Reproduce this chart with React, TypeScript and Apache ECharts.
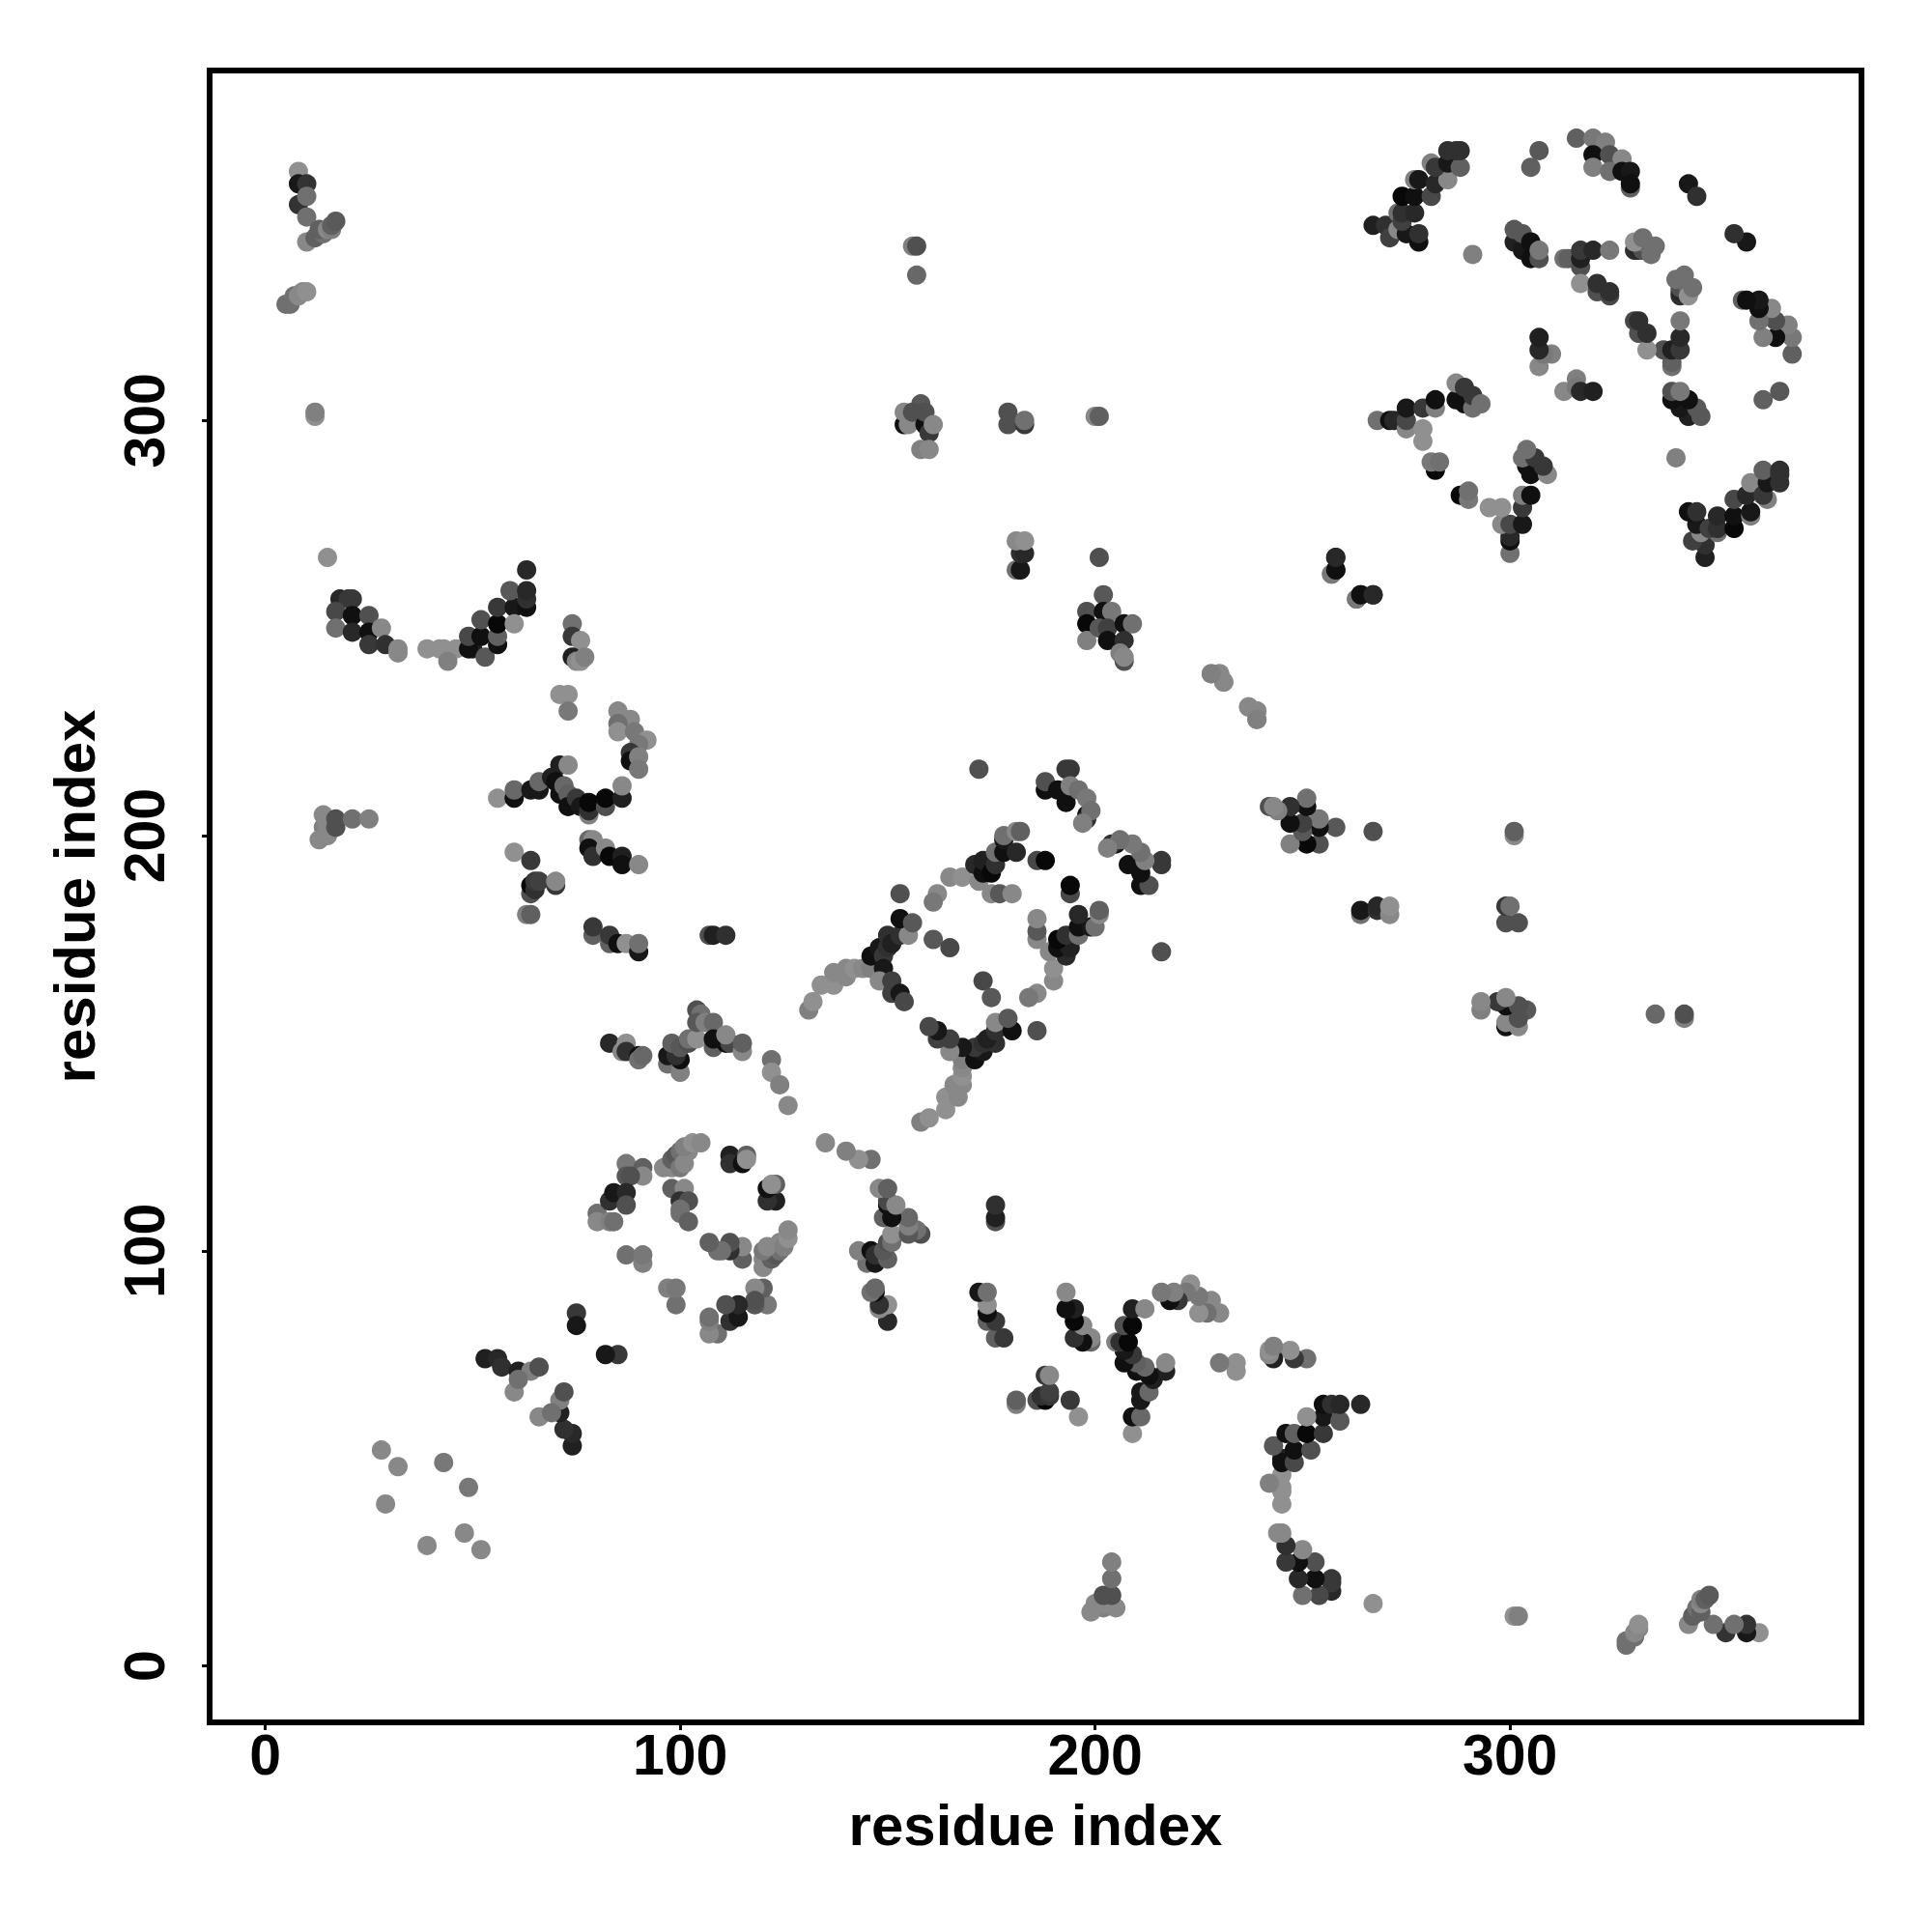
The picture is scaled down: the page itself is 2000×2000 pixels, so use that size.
import React, { useEffect, useRef } from "react";
import * as echarts from "echarts";

type C = [number, number, number];

const tickLabels = [0, 100, 200, 300];
const xTitle = "residue index";
const yTitle = "residue index";

// contacts above the diagonal: [residue i, residue j, grey level]
const nTerminal: C[] = [
  [8,360,0x90],[8,357,0x18],[10,357,0x33],[8,352,0x33],[10,354,0x70],[10,349,0x70],[10,343,0x88],[12,344,0x60],
  [14,345,0x70],[13,346,0x60],[15,346,0x88],[16,346,0x80],[16,347,0x60],[17,348,0x5a],[5,328,0x70],[6,328,0x70],[7,330,0x70],[8,330,0x88],
  [9,331,0x88],[10,331,0x90],[12,301,0x90],[12,302,0x80],[15,267,0x90],
];
const helixA: C[] = [
  [18,257,0x28],[20,257,0x38],[21,257,0x38],[17,254,0x48],[21,253,0x10],[25,253,0x50],[17,250,0x70],[21,249,0x28],
  [25,249,0x10],[28,250,0x88],[25,246,0x38],[29,246,0x30],[32,244,0x88],[32,245,0x88],[39,245,0x90],[42,245,0x90],
  [43,245,0x90],[46,245,0x90],[44,242,0x80],[50,245,0x20],[49,245,0x10],[49,248,0x48],[52,248,0x10],[52,252,0x50],
  [53,243,0x58],[56,246,0x10],[56,248,0x60],[56,251,0x08],[56,255,0x38],[60,255,0x18],[60,251,0x90],[59,259,0x58],
  [63,255,0x10],[63,257,0x30],[63,259,0x28],[63,264,0x28],
];
const helixB: C[] = [
  [74,251,0x70],[74,248,0x38],[76,247,0x90],[74,243,0x20],[75,242,0x88],[76,242,0x90],[77,243,0x80],[71,234,0x90],
  [73,234,0x90],[73,230,0x78],[85,230,0x88],[88,228,0x88],[85,227,0x70],[85,225,0x90],[89,225,0x78],[92,223,0x90],
  [90,222,0x78],[88,220,0x38],[88,218,0x10],[90,219,0x80],[90,216,0x78],
];
const sheetA: C[] = [
  [56,209,0x90],[60,209,0x10],[60,211,0x68],[64,211,0x18],[66,211,0x18],[66,213,0x68],[69,214,0x20],[71,217,0x20],
  [73,217,0x88],[70,213,0x10],[71,210,0x10],[72,212,0x68],[73,210,0x60],[73,207,0x10],[75,209,0x38],[76,207,0x18],
  [78,205,0x80],[78,206,0x30],[78,208,0x08],[82,207,0x50],[82,209,0x08],[86,209,0x20],[86,212,0x88],
  [14,202,0x80],[14,205,0x88],[15,202,0x88],[13,199,0x88],[15,200,0x88],[17,202,0x50],[17,204,0x50],[21,204,0x70],[25,204,0x80],
];
const sheetB: C[] = [
  [60,196,0x90],[64,194,0x38],[64,186,0x50],[64,188,0x08],[65,187,0x30],[65,189,0x38],[66,189,0x40],[70,188,0x38],
  [70,189,0x88],[63,181,0x80],[64,181,0x60],[78,199,0x68],[79,199,0x88],[78,197,0x10],[79,195,0x30],[82,197,0x88],
  [83,195,0x08],[86,195,0x20],[86,193,0x10],[90,193,0x88],[79,176,0x60],[79,178,0x38],[83,174,0x60],[83,176,0x38],
  [85,174,0x10],[87,174,0x90],[90,172,0x18],[90,174,0x70],[107,176,0x50],[108,176,0x20],[111,176,0x30],
];
const middleA: C[] = [
  [83,150,0x28],[86,148,0x88],[87,150,0x90],[87,148,0x30],[90,147,0x10],[90,146,0x70],[91,147,0x68],
  [97,145,0x70],[97,147,0x18],[100,143,0x80],[100,146,0x10],[99,147,0x30],[98,150,0x60],[100,149,0x58],[102,150,0x50],
  [102,151,0x70],[104,151,0x90],[104,158,0x50],[105,157,0x70],[104,155,0x58],[106,155,0x80],[108,155,0x68],[108,149,0x60],
  [108,151,0x10],[111,150,0x10],[112,150,0x48],[111,152,0x88],[115,148,0x88],[115,150,0x60],[122,146,0x70],[122,143,0x90],
  [124,140,0x80],[126,135,0x88],
];
const middleB: C[] = [
  [112,123,0x20],[112,121,0x30],[115,121,0x10],[116,123,0x60],[116,122,0x90],[87,121,0x78],[91,120,0x60],[91,118,0x88],
  [87,118,0x58],[88,118,0x50],[96,120,0x88],[98,120,0x88],[98,122,0x60],[99,123,0x58],[100,120,0x78],[100,124,0x70],
  [101,121,0x88],[102,124,0x88],[101,125,0x80],[103,126,0x90],[105,126,0x88],[98,115,0x60],[101,115,0x88],[100,112,0x30],
  [102,112,0x50],[100,110,0x70],[100,109,0x70],[102,107,0x60],[80,109,0x70],[80,107,0x88],[83,107,0x80],[84,107,0x70],
  [83,112,0x30],[84,114,0x18],[87,114,0x28],[87,111,0x50],[87,99,0x70],[91,97,0x80],[91,99,0x78],
];
const shortRange: C[] = [
  [28,52,0x88],[32,48,0x88],[43,49,0x78],[29,39,0x88],[53,74,0x20],[56,74,0x28],[57,72,0x30],[61,71,0x20],
  [64,71,0x80],[66,72,0x50],[60,66,0x88],[61,69,0x70],[75,85,0x38],[75,82,0x18],
];
const domainBridge: C[] = [
  [131,158,0x80],[132,160,0x90],[134,164,0x90],[137,164,0x90],[137,167,0x88],[140,166,0x88],[140,168,0x88],[142,168,0x90],
  [144,168,0x88],[146,168,0x80],[146,171,0x10],[148,173,0x18],[149,171,0x38],[149,168,0x18],[150,173,0x30],[150,176,0x30],
  [151,174,0x20],[153,176,0x30],[155,176,0x88],[153,180,0x10],[156,179,0x58],[153,186,0x50],[148,165,0x88],[151,165,0x40],
  [151,162,0x40],[153,162,0x18],[154,160,0x48],[162,186,0x88],[161,184,0x78],[165,190,0x88],[168,190,0x90],
  [161,175,0x58],[165,173,0x48],[172,216,0x50],
];
const hingeStrands: C[] = [
  [172,189,0x88],[171,193,0x28],[173,191,0x10],[173,194,0x20],[175,191,0x08],[176,193,0x30],[176,196,0x70],[175,186,0x88],
  [177,186,0x58],[180,186,0x88],[178,196,0x10],[178,199,0x18],[178,200,0x70],[181,196,0x28],[181,201,0x88],[182,201,0x60],
  [186,194,0x48],[188,194,0x08],[188,211,0x10],[188,213,0x50],[191,211,0x10],[193,208,0x10],[193,216,0x38],[194,216,0x38],
  [194,212,0x80],[196,211,0x70],[198,205,0x10],[198,204,0x30],[198,209,0x78],[199,206,0x70],[197,203,0x80],
];
const midLongRange: C[] = [
  [156,342,0x80],[157,342,0x50],[157,335,0x68],[154,299,0x10],[154,302,0x88],[155,299,0x88],[158,304,0x58],[156,302,0x50],
  [159,299,0x10],[159,302,0x50],[160,297,0x38],[161,299,0x88],[158,293,0x80],[160,293,0x88],[179,299,0x50],[179,302,0x50],
  [183,299,0x38],[183,300,0x70],[200,301,0x88],[201,301,0x60],[181,264,0x70],[182,264,0x18],[182,268,0x30],[183,268,0x28],
  [181,271,0x88],[183,271,0x90],[201,267,0x50],[202,258,0x58],[198,254,0x50],[198,251,0x08],[198,247,0x80],[202,254,0x10],
  [204,254,0x78],[201,250,0x58],[203,250,0x40],[207,251,0x10],[209,251,0x70],[203,247,0x10],[207,247,0x30],[206,244,0x80],
  [207,242,0x50],[207,243,0x88],[228,239,0x88],[230,239,0x88],[231,237,0x88],[237,231,0x88],[239,230,0x88],[239,228,0x80],
  [257,263,0x78],[258,264,0x10],[258,267,0x20],[263,257,0x78],[264,258,0x10],[267,258,0x28],
];
const cTerminalA: C[] = [
  [267,347,0x20],[270,347,0x30],[271,344,0x40],[273,346,0x88],[275,345,0x18],[278,343,0x10],[278,345,0x30],[273,350,0x70],
  [274,348,0x40],[274,350,0x30],[277,350,0x28],[274,354,0x08],[277,354,0x10],[277,358,0x80],[278,358,0x18],[281,354,0x48],
  [282,357,0x28],[285,358,0x88],[281,362,0x80],[282,361,0x38],[285,362,0x18],[288,361,0x60],[285,365,0x30],[287,365,0x30],
  [288,365,0x30],[291,340,0x80],[305,361,0x60],[307,365,0x58],
];
const cTerminalB: C[] = [
  [301,343,0x20],[301,346,0x58],[303,341,0x18],[303,345,0x58],[305,339,0x10],[305,343,0x10],[307,339,0x50],[307,341,0x78],
  [316,368,0x60],[320,368,0x78],[323,367,0x80],[320,364,0x10],[324,364,0x50],[327,363,0x88],[320,361,0x80],[324,360,0x70],
  [327,360,0x10],[329,360,0x18],[329,356,0x60],[329,357,0x10],[343,357,0x18],[345,354,0x30],[313,339,0x70],[314,339,0x60],
  [317,337,0x50],[317,339,0x20],[317,341,0x38],[320,341,0x28],[324,341,0x78],[317,333,0x90],[321,331,0x50],[321,333,0x30],
  [324,330,0x48],[324,331,0x30],[330,341,0x30],[331,341,0x28],[331,343,0x80],[332,341,0x50],[332,343,0x68],[330,343,0x90],
  [332,344,0x70],[334,340,0x70],[335,342,0x70],
];
const cTerminalC: C[] = [
  [313,307,0x88],[316,310,0x80],[316,308,0x78],[317,307,0x28],[320,307,0x20],[268,300,0x70],[271,300,0x10],[272,300,0x28],
  [275,298,0x88],[275,300,0x48],[275,303,0x18],[279,303,0x38],[282,303,0x80],[282,305,0x10],[279,298,0x90],[279,295,0x90],
  [282,288,0x08],[281,290,0x78],[283,290,0x70],[287,305,0x10],[287,309,0x88],[289,304,0x10],[289,308,0x38],[291,303,0x70],
  [291,306,0x38],[293,304,0x70],
];

const upperContacts: C[] = [
  ...nTerminal, ...helixA, ...helixB, ...sheetA, ...sheetB, ...middleA, ...middleB,
  ...shortRange, ...domainBridge, ...hingeStrands, ...midLongRange, ...cTerminalA, ...cTerminalB, ...cTerminalC,
];

const item = (x: number, y: number, g: number) => ({
  value: [x, y],
  itemStyle: { color: `rgb(${g},${g},${g})` },
});

// a contact map is symmetric: every contact i-j is also j-i
const points = upperContacts.flatMap(([i, j, g]) => [item(i, j, g), item(j, i, g)]);

const FONT = "'Liberation Sans', Arial, sans-serif";

export default function App() {
  const ref = useRef<HTMLDivElement>(null);
  useEffect(() => {
    const chart = echarts.init(ref.current!, undefined, { renderer: "svg" });
    const common = {
      type: "value" as const,
      splitLine: { show: false },
      axisLine: { show: false, onZero: false },
      axisTick: { show: true, length: 8, lineStyle: { color: "#000", width: 3 }, customValues: tickLabels },
      nameLocation: "middle" as const,
      nameTextStyle: { fontFamily: FONT, fontWeight: "bold" as const, fontSize: 60, color: "#000" },
    };
    chart.setOption({
      animation: false,
      backgroundColor: "#fff",
      grid: { left: 217, right: 73, top: 73, bottom: 217, show: true, borderColor: "#000", borderWidth: 6, backgroundColor: "transparent" },
      xAxis: {
        ...common,
        min: -13.4,
        max: 384.7,
        name: xTitle,
        nameGap: 76,
        axisLabel: { customValues: tickLabels, fontFamily: FONT, fontWeight: "bold", fontSize: 59, color: "#000", margin: 4, formatter: (v: number) => String(v) },
      },
      yAxis: {
        ...common,
        min: -13.6,
        max: 384.3,
        name: yTitle,
        nameGap: 110,
        nameRotate: 90,
        axisLabel: { customValues: tickLabels, rotate: 90, fontFamily: FONT, fontWeight: "bold", fontSize: 59, color: "#000", margin: 38, formatter: (v: number) => String(v) },
      },
      series: [{ type: "scatter", symbol: "circle", symbolSize: 20, data: points, itemStyle: { opacity: 1 } }],
    });
    return () => chart.dispose();
  }, []);
  return <div ref={ref} style={{ position: "absolute", left: 0, top: 0, width: 2000, height: 2000 }} />;
}
